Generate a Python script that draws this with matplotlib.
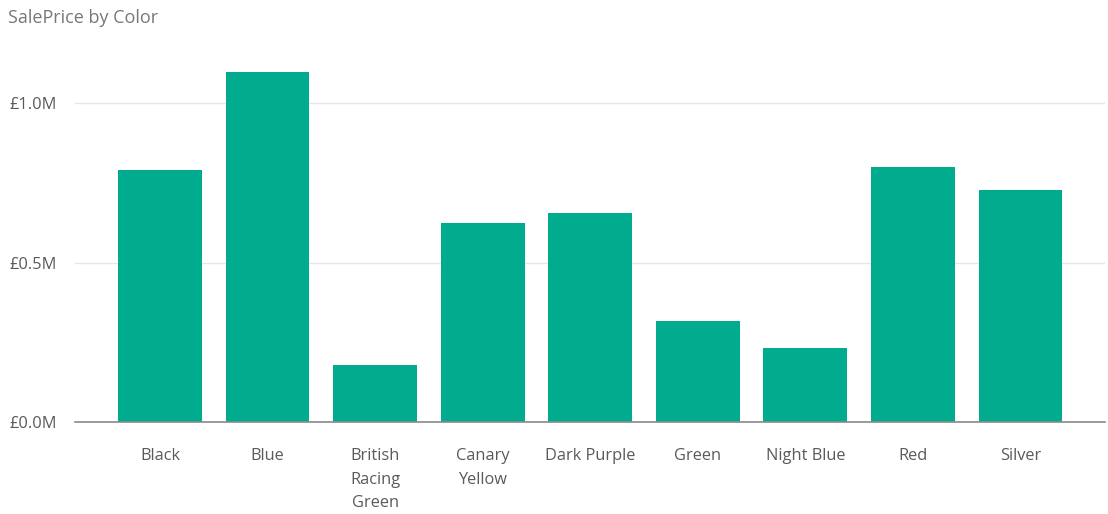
import numpy as np
import matplotlib.pyplot as plt
from matplotlib.ticker import FuncFormatter

# Data
colors = ["Black", "Blue", "British\nRacing\nGreen", "Canary\nYellow", "Dark Purple",
          "Green", "Night Blue", "Red", "Silver"]
sale_price = [790000, 1097000, 179000, 624000, 655000, 317000, 232000, 799000, 727000]
y_ticks = [0, 500000, 1000000]

plt.rcParams['font.family'] = ['Open Sans', 'DejaVu Sans']
text_grey = '#5a5a5a'

fig = plt.figure(figsize=(11.08, 5.14), dpi=100)
ax = fig.add_axes([0.0677, 0.179, 0.93, 0.704])

x = np.arange(len(colors))
ax.bar(x, sale_price, width=0.78, color='#01AC8E', zorder=2)

ax.set_xlim(-0.79, len(colors) - 1 + 0.79)
ax.set_ylim(0, 1135000)
ax.set_yticks(y_ticks)
ax.yaxis.set_major_formatter(FuncFormatter(lambda v, p: f"£{v / 1e6:.1f}M"))
ax.set_xticks(x)
ax.set_xticklabels(colors, linespacing=1.62, va='top')

ax.grid(axis='y', color='#e6e6e6', linewidth=1, zorder=0)
for s in ['top', 'right', 'left']:
    ax.spines[s].set_visible(False)
ax.spines['bottom'].set_color('#8a8a8a')
ax.spines['bottom'].set_linewidth(1.2)
ax.spines['bottom'].set_zorder(3)

ax.tick_params(axis='y', length=0, pad=13, labelsize=11.8, labelcolor=text_grey)
ax.tick_params(axis='x', length=0, pad=19, labelsize=11.8, labelcolor=text_grey)

fig.text(0.007, 0.965, "SalePrice by Color", fontsize=13, color='#777777', va='center')

fig.savefig('out.png', dpi=100)
